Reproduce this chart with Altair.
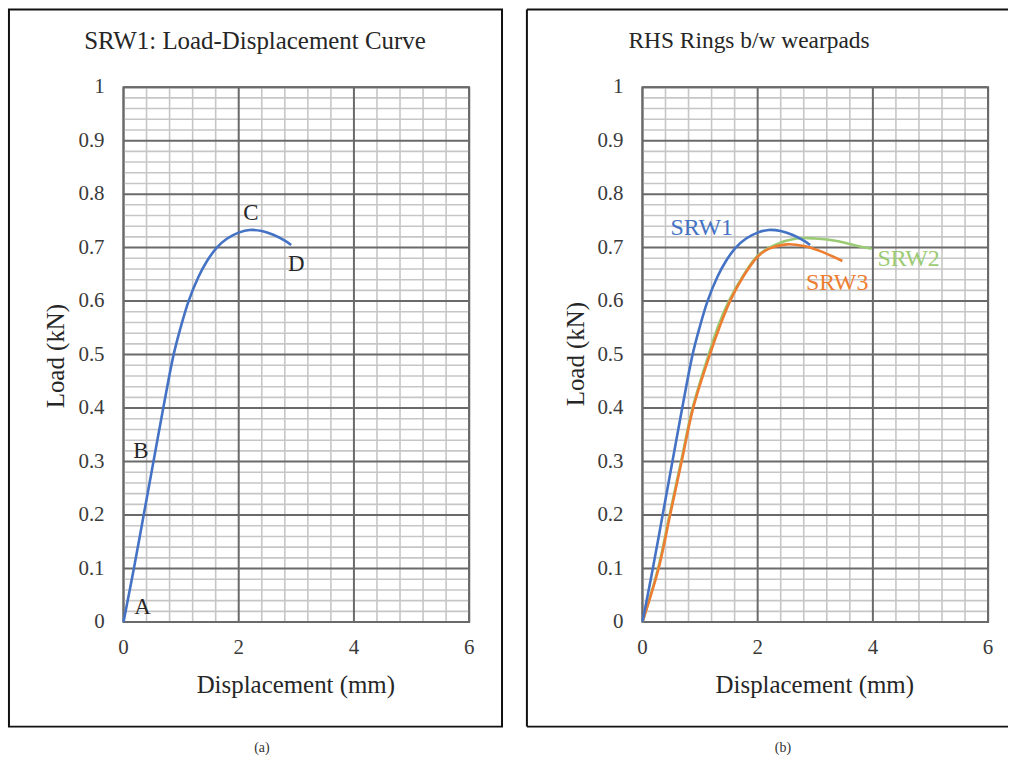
import altair as alt
import pandas as pd

# ---------------- data ----------------
srw1_x = [0, 0.18, 0.35, 0.52, 0.69, 0.87, 0.99, 1.13, 1.30, 1.45, 1.62, 1.80, 2.00, 2.19, 2.40, 2.60, 2.80, 2.91]
srw1_y = [0, 0.10, 0.20, 0.30, 0.40, 0.50, 0.55, 0.60, 0.645, 0.675, 0.700, 0.717, 0.728, 0.733, 0.731, 0.724, 0.713, 0.705]

srw2_x = [0, 0.27, 0.47, 0.67, 0.87, 1.15, 1.32, 1.50, 1.75, 2.00, 2.30, 2.67, 3.00, 3.40, 3.70, 3.98]
srw2_y = [0, 0.10, 0.20, 0.30, 0.40, 0.50, 0.555, 0.600, 0.648, 0.685, 0.705, 0.717, 0.717, 0.712, 0.704, 0.698]

srw3_x = [0, 0.28, 0.48, 0.68, 0.88, 1.17, 1.34, 1.52, 1.75, 2.00, 2.20, 2.50, 2.80, 3.10, 3.47]
srw3_y = [0, 0.10, 0.20, 0.30, 0.40, 0.50, 0.552, 0.600, 0.646, 0.683, 0.698, 0.706, 0.703, 0.693, 0.675]

x_ticks = [0, 2, 4, 6]
x_tick_labels = ["0", "2", "4", "6"]
y_ticks = [0, 0.1, 0.2, 0.3, 0.4, 0.5, 0.6, 0.7, 0.8, 0.9, 1]
y_tick_labels = ["0", "0.1", "0.2", "0.3", "0.4", "0.5", "0.6", "0.7", "0.8", "0.9", "1"]
x_minor = [0.4, 0.8, 1.2, 1.6, 2.4, 2.8, 3.2, 3.6, 4.4, 4.8, 5.2, 5.6]
y_minor = [round(i * 0.02, 2) for i in range(51) if i % 5 != 0]

point_labels = ["A", "B", "C", "D"]
point_lx = [0.33, 0.30, 2.21, 3.00]
point_ly = [0.028, 0.32, 0.765, 0.669]

series_names = ["SRW1", "SRW2", "SRW3"]
series_colors = ["#4472C4", "#9BCB74", "#ED7D31"]
series_lx = [1.03, 4.62, 3.38]
series_ly = [0.736, 0.678, 0.633]

# ---------------- styling ----------------
FONT = "Liberation Serif"
W, H = 347, 537
MAJOR = "#6a6a6a"
MINOR = "#c6c6c6"
TXT = "#262626"
TICK = "#3a3a3a"


def xs():
    return alt.Scale(domain=[0, 6], nice=False, zero=False)


def ys():
    return alt.Scale(domain=[0, 1], nice=False, zero=False)


def grid():
    mv = alt.Chart(pd.DataFrame({"x": x_minor})).mark_rule(color=MINOR, strokeWidth=1.6).encode(
        x=alt.X("x:Q", scale=xs(), axis=None))
    mh = alt.Chart(pd.DataFrame({"y": y_minor})).mark_rule(color=MINOR, strokeWidth=1.6).encode(
        y=alt.Y("y:Q", scale=ys(), axis=None))
    Mv = alt.Chart(pd.DataFrame({"x": x_ticks})).mark_rule(color=MAJOR, strokeWidth=2).encode(
        x=alt.X("x:Q", scale=xs(), axis=None))
    Mh = alt.Chart(pd.DataFrame({"y": y_ticks})).mark_rule(color=MAJOR, strokeWidth=2).encode(
        y=alt.Y("y:Q", scale=ys(), axis=None))
    return [mv, mh, Mv, Mh]


def ticklabels():
    tx = alt.Chart(pd.DataFrame({"v": x_ticks, "t": x_tick_labels})).mark_text(
        font=FONT, fontSize=21, color=TICK, align="center", baseline="middle").encode(
        x=alt.X("v:Q", scale=xs(), axis=None), y=alt.value(H + 26), text="t:N")
    ty = alt.Chart(pd.DataFrame({"v": y_ticks, "t": y_tick_labels})).mark_text(
        font=FONT, fontSize=21, color=TICK, align="right", baseline="middle").encode(
        y=alt.Y("v:Q", scale=ys(), axis=None), x=alt.value(-19), text="t:N")
    return [tx, ty]


def line(xv, yv, color):
    df = pd.DataFrame({"d": xv, "l": yv})
    return alt.Chart(df).mark_line(color=color, strokeWidth=2.6, interpolate="catmull-rom").encode(
        x=alt.X("d:Q", scale=xs(), axis=None),
        y=alt.Y("l:Q", scale=ys(), axis=None),
    )


def ptext(txt, px, py, size, angle=0, color=TXT):
    return alt.Chart(pd.DataFrame({"t": [txt]})).mark_text(
        font=FONT, fontSize=size, color=color, angle=angle, align="center", baseline="middle"
    ).encode(x=alt.value(px), y=alt.value(py), text="t:N")


one = pd.DataFrame({"k": [0]})

# ---------------- panel (a) ----------------
box_a = alt.Chart(one).mark_rect(filled=False, stroke="#111111", strokeWidth=2).encode(
    x=alt.value(-115), x2=alt.value(380), y=alt.value(-78), y2=alt.value(642))

lab_a = alt.Chart(pd.DataFrame({"t": point_labels, "x": point_lx, "y": point_ly})).mark_text(
    font=FONT, fontSize=23, color=TXT, align="center", baseline="middle").encode(
    x=alt.X("x:Q", scale=xs(), axis=None), y=alt.Y("y:Q", scale=ys(), axis=None), text="t:N")

panel_a = alt.layer(
    box_a, *grid(), line(srw1_x, srw1_y, series_colors[0]), lab_a, *ticklabels(),
    ptext("SRW1: Load-Displacement Curve", 132, -46, 25),
    ptext("Load (kN)", -68, 270, 25, angle=270),
    ptext("Displacement (mm)", 173, 600, 25),
    ptext("(a)", 139, 663, 14, color="#333333"),
).properties(width=W, height=H)

# ---------------- panel (b) ----------------
rules_b = [
    alt.Chart(one).mark_rule(color="#111111", strokeWidth=2).encode(
        x=alt.value(-116), x2=alt.value(367), y=alt.value(-78)),
    alt.Chart(one).mark_rule(color="#111111", strokeWidth=2).encode(
        x=alt.value(-116), y=alt.value(-78), y2=alt.value(642)),
    alt.Chart(one).mark_rule(color="#111111", strokeWidth=2).encode(
        x=alt.value(-116), x2=alt.value(367), y=alt.value(642)),
]

lab_b = alt.Chart(pd.DataFrame({"t": series_names, "x": series_lx, "y": series_ly, "c": series_colors})).mark_text(
    font=FONT, fontSize=24, align="center", baseline="middle").encode(
    x=alt.X("x:Q", scale=xs(), axis=None), y=alt.Y("y:Q", scale=ys(), axis=None), text="t:N",
    color=alt.Color("c:N", scale=None))

panel_b = alt.layer(
    *rules_b, *grid(),
    line(srw2_x, srw2_y, series_colors[1]),
    line(srw3_x, srw3_y, series_colors[2]),
    line(srw1_x, srw1_y, series_colors[0]),
    lab_b, *ticklabels(),
    ptext("RHS Rings b/w wearpads", 107, -46, 23.5),
    ptext("Load (kN)", -67, 268, 25, angle=270),
    ptext("Displacement (mm)", 173, 600, 25),
    ptext("(b)", 141, 663, 14, color="#333333"),
).properties(width=W, height=H)

chart = alt.hconcat(panel_a, panel_b, spacing=21).properties(
    padding={"left": 7, "top": 6, "right": 0, "bottom": 0},
    background="white",
).configure_view(stroke=MAJOR, strokeWidth=2)

chart.save("out.html", embed_options={"renderer": "svg", "actions": False})
